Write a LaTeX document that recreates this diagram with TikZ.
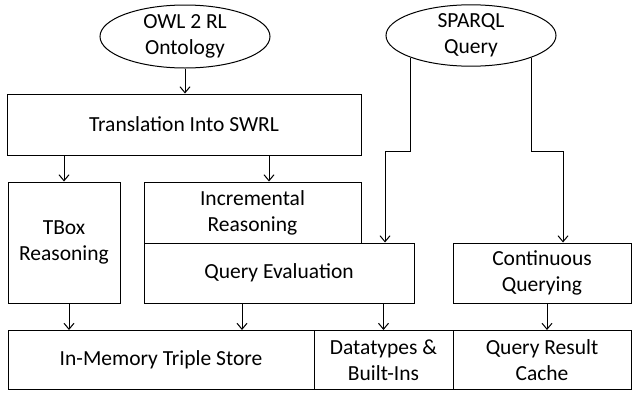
\documentclass[tikz,border=0pt]{standalone}
\usepackage{fontspec}
\setmainfont{Carlito}
\usetikzlibrary{shapes.geometric,arrows.meta}
\begin{document}
\begin{tikzpicture}
  [x=1pt,y=-1pt,line width=1pt,>={Straight Barb[length=6pt,width=10pt]},
   box/.style={draw,rectangle,inner sep=0pt,align=center,font=\fontsize{21.5}{26}\selectfont},
   oval/.style={draw,ellipse,inner sep=0pt,align=center,font=\fontsize{21.5}{26}\selectfont}]
  \useasboundingbox (0,0) rectangle (632,394);
  \node[oval] (owl) at (185,36.5) [minimum width=170pt,minimum height=63pt] {OWL 2 RL\\Ontology};
  \node[oval] (sparql) at (471,35.5) [minimum width=170pt,minimum height=61pt] {SPARQL\\Query};
  \node[box] (trans) at (184,124.5) [minimum width=354pt,minimum height=61pt] {Translation Into SWRL};
  \node[box] (tbox) at (64,242.5) [minimum width=112pt,minimum height=121pt] {TBox\\Reasoning};
  \node[box] (incr) at (252.5,212.5) [minimum width=217pt,minimum height=61pt] {Incremental\\Reasoning};
  \node[box] (qeval) at (279,273) [minimum width=270pt,minimum height=60pt] {Query Evaluation};
  \node[box] (cont) at (542,273) [minimum width=178pt,minimum height=60pt] {Continuous\\Querying};
  \node[box] (inmem) at (161,360) [minimum width=306pt,minimum height=59pt] {In-Memory Triple Store};
  \node[box] (dtypes) at (383.5,360) [minimum width=139pt,minimum height=59pt] {Datatypes \&\\Built-Ins};
  \node[box] (cache) at (542,360) [minimum width=178pt,minimum height=59pt] {Query Result\\Cache};

  \draw[->] (owl) -- (owl |- trans.north);
  \draw[->] (trans.south -| tbox) -- (tbox);
  \draw[->] (trans.south -| 269,0) -- (incr.north -| 269,0);
  \draw[->] (tbox.south -| 69,0) -- (inmem.north -| 69,0);
  \draw[->] (qeval.south -| 242,0) -- (inmem.north -| 242,0);
  \draw[->] (qeval.south -| dtypes) -- (dtypes);
  \draw[->] (cont.south -| 547,0) -- (cache.north -| 547,0);
  \draw[->] (sparql.200) -- (sparql.200 |- 0,151) -| (qeval.north -| 385,0);
  \draw[->] (sparql.340) -- (sparql.340 |- 0,151) -| (cont.north -| 563,0);
\end{tikzpicture}
\end{document}
